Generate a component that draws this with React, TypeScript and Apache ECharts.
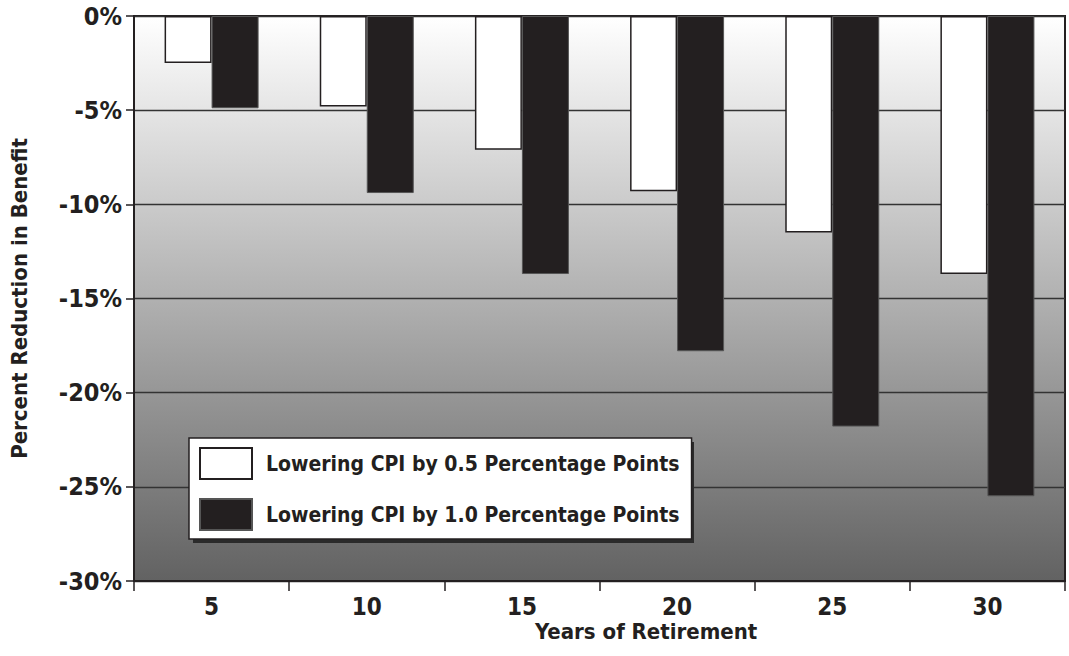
import React, { useEffect, useRef } from "react";
import * as echarts from "echarts";

// Years of retirement (categories)
const years = ["5", "10", "15", "20", "25", "30"];
// Percent change in benefit when CPI is lowered by 0.5 points
const cpiHalfPoint = [-2.5, -4.8, -7.1, -9.3, -11.5, -13.7];
// Percent change in benefit when CPI is lowered by 1.0 point
const cpiOnePoint = [-4.9, -9.4, -13.7, -17.8, -21.8, -25.5];

const seriesNames = [
  "Lowering CPI by 0.5 Percentage Points",
  "Lowering CPI by 1.0 Percentage Points",
];

const FONT = '"Liberation Sans Narrow", "DejaVu Sans Condensed", "Arial Narrow", sans-serif';
const INK = "#231f20";

export default function App() {
  const ref = useRef<HTMLDivElement>(null);

  useEffect(() => {
    document.body.style.margin = "0";
    if (!ref.current) return;
    const chart = echarts.init(ref.current, null, { renderer: "svg" });
    chart.setOption({
      animation: false,
      grid: {
        left: 134,
        top: 16,
        right: 4,
        bottom: 75,
        show: true,
        borderColor: INK,
        borderWidth: 2,
        backgroundColor: new echarts.graphic.LinearGradient(0, 0, 0, 1, [
          { offset: 0, color: "#ffffff" },
          { offset: 1, color: "#626262" },
        ]),
      },
      legend: {
        orient: "vertical",
        left: 189,
        top: 438,
        padding: [9, 12, 8, 10],
        icon: "rect",
        itemWidth: 52,
        itemHeight: 31,
        itemGap: 18,
        backgroundColor: "#ffffff",
        borderColor: INK,
        borderWidth: 1.5,
        borderRadius: 0,
        textStyle: {
          fontFamily: FONT,
          fontWeight: "bold",
          fontSize: 21,
          color: INK,
          padding: [0, 0, 0, 9],
        },
        data: seriesNames,
      },
      graphic: [
        {
          // drop shadow behind the legend box
          type: "rect",
          z: 1,
          shape: { x: 193, y: 442, width: 501, height: 101 },
          style: { fill: "#2b2b2b" },
          silent: true,
        },
        {
          type: "text",
          left: 535,
          top: 620,
          style: {
            text: "Years of Retirement",
            fontFamily: FONT,
            fontWeight: "bold",
            fontSize: 22,
            fill: INK,
          },
        },
      ],
      xAxis: {
        type: "category",
        data: years,
        axisLine: { show: true, onZero: false, lineStyle: { color: INK, width: 2 } },
        axisTick: { show: true, length: 10, lineStyle: { color: INK, width: 1.5 } },
        axisLabel: {
          fontFamily: FONT,
          fontWeight: "bold",
          fontSize: 24,
          color: INK,
          margin: 14,
        },
        splitLine: { show: false },
      },
      yAxis: {
        type: "value",
        min: -30,
        max: 0,
        interval: 5,
        name: "Percent Reduction in Benefit",
        nameLocation: "middle",
        nameRotate: 90,
        nameGap: 104,
        nameTextStyle: {
          fontFamily: FONT,
          fontWeight: "bold",
          fontSize: 22,
          color: INK,
        },
        axisLine: { show: true, lineStyle: { color: INK, width: 2 } },
        axisTick: { show: true, length: 8, lineStyle: { color: INK, width: 1.5 } },
        axisLabel: {
          formatter: "{value}%",
          fontFamily: FONT,
          fontWeight: "bold",
          fontSize: 25,
          color: INK,
          margin: 12,
        },
        splitLine: { show: true, lineStyle: { color: "#333333", width: 1.3 } },
      },
      series: [
        {
          name: seriesNames[0],
          type: "bar",
          data: cpiHalfPoint,
          barWidth: 47,
          barGap: "0%",
          itemStyle: { color: "#ffffff", borderColor: INK, borderWidth: 1.5 },
        },
        {
          name: seriesNames[1],
          type: "bar",
          data: cpiOnePoint,
          barWidth: 47,
          barGap: "0%",
          itemStyle: { color: INK, borderColor: "#555555", borderWidth: 1 },
        },
      ],
    });
    return () => chart.dispose();
  }, []);

  return <div ref={ref} style={{ width: 1069, height: 656 }} />;
}
